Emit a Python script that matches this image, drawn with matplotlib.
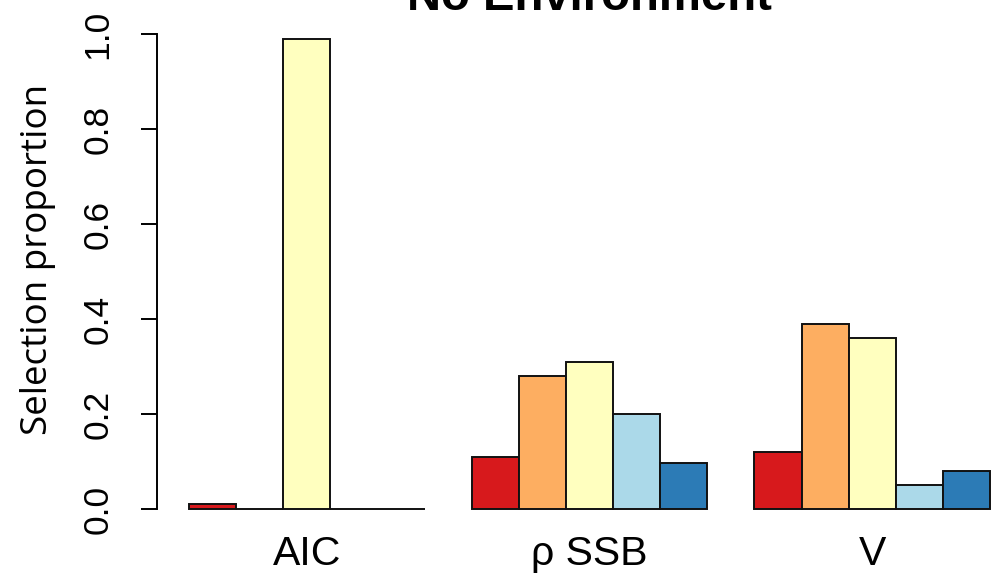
import matplotlib
matplotlib.use("Agg")
import matplotlib.pyplot as plt
import numpy as np

criteria = ["AIC", "ρ SSB", "V"]
colours = ["#D7191C", "#FDAE61", "#FFFFBF", "#ABD9E9", "#2C7BB6"]

# proportion of runs selecting each model, one row per criterion
aic = [0.01, 0.0, 0.99, 0.0, 0.0]
rho_ssb = [0.11, 0.28, 0.31, 0.20, 0.097]
v = [0.12, 0.39, 0.36, 0.05, 0.08]
props = [aic, rho_ssb, v]

yticks = [0.0, 0.2, 0.4, 0.6, 0.8, 1.0]
ytick_labels = ["0.0", "0.2", "0.4", "0.6", "0.8", "1.0"]

sans = "Liberation Sans"

fig = plt.figure(figsize=(9.93, 5.82), dpi=100)
ax = fig.add_axes([157 / 993, 54 / 582, 865 / 993, 513 / 582])

# barplot(beside=TRUE) layout: one empty slot between groups
n_bars = len(colours)
centers = []
for g, vals in enumerate(props):
    x = 1 + g * (n_bars + 1) + np.arange(n_bars)
    ax.bar(x, vals, width=1.0, align="edge", color=colours,
           edgecolor="#111111", linewidth=1.4)
    centers.append(x[0] + n_bars / 2)

ax.set_xlim(0.32, 18.68)
ax.set_ylim(-0.04, 1.04)

for side in ["top", "right", "bottom"]:
    ax.spines[side].set_visible(False)
ax.spines["left"].set_bounds(0, 1)
ax.spines["left"].set_linewidth(1.4)

ax.set_yticks(yticks)
ax.set_yticklabels(ytick_labels, rotation=90, va="center", fontsize=25.5,
                   family=sans)
ax.tick_params(axis="y", length=11.5, width=1.4, pad=19)

ax.set_xticks(centers)
ax.set_xticklabels(criteria, fontsize=29.5, family=sans)
ax.tick_params(axis="x", length=0, pad=5)

fig.text(38 / 993, (582 - 259.5) / 582, "Selection proportion",
         rotation=90, ha="center", va="center", fontsize=26.5,
         family="Open Sans")
fig.text(589 / 993, 572 / 582, "No Environment", ha="center", va="baseline",
         fontsize=34, fontweight="bold", family=sans)

fig.savefig("out.png", dpi=100)
